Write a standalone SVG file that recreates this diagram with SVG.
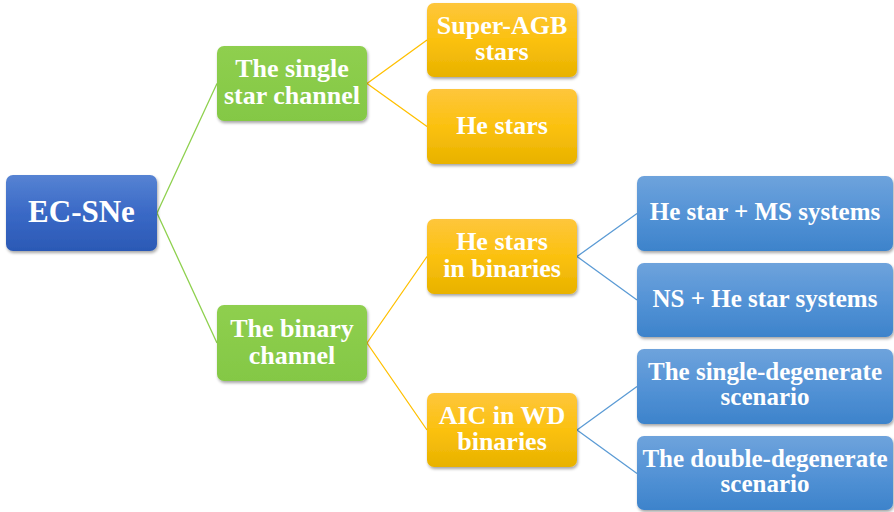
<svg xmlns="http://www.w3.org/2000/svg" width="894" height="512" viewBox="0 0 894 512">
<defs>
<linearGradient id="gRoot" x1="0" y1="0" x2="0" y2="1">
<stop offset="0" stop-color="#5683d3"/><stop offset="0.5" stop-color="#3a69c6"/><stop offset="1" stop-color="#2b59b5"/>
</linearGradient>
<linearGradient id="gBlue" x1="0" y1="0" x2="0" y2="1">
<stop offset="0" stop-color="#6ea3dc"/><stop offset="0.5" stop-color="#5493d6"/><stop offset="1" stop-color="#3d83cb"/>
</linearGradient>
<linearGradient id="gGreen" x1="0" y1="0" x2="0" y2="1">
<stop offset="0" stop-color="#8fcf4f"/><stop offset="1" stop-color="#84c845"/>
</linearGradient>
<linearGradient id="gYellow" x1="0" y1="0" x2="0" y2="1">
<stop offset="0" stop-color="#fec63c"/><stop offset="0.5" stop-color="#fbc10f"/><stop offset="1" stop-color="#e8b200"/>
</linearGradient>
<filter id="sh" x="-10%" y="-10%" width="120%" height="130%">
<feDropShadow dx="1" dy="2" stdDeviation="1.5" flood-color="#000" flood-opacity="0.35"/>
</filter>
</defs>
<style>
.n{filter:url(#sh)}
.t{font-family:"Liberation Serif","Times New Roman",serif;font-weight:bold;fill:#fff;text-anchor:middle}
.t26{font-size:26px}
.t25{font-size:25px}
.c{fill:none;stroke-width:1.3}
</style>
<g id="connectors">
<path class="c" stroke="#8fd14f" d="M157 213 L217 83.5 M157 213 L217 343"/>
<path class="c" stroke="#ffc000" d="M367 83.5 L427 40 M367 83.5 L427 126.5 M367 343 L427 256.5 M367 343 L427 430"/>
<path class="c" stroke="#5b9bd5" d="M577 256.5 L637 213.5 M577 256.5 L637 300 M577 430 L637 386.5 M577 430 L637 473.5"/>
</g>
<g id="root">
<rect class="n" x="6" y="175" width="151" height="76" rx="7" fill="url(#gRoot)"/>
<text class="t" x="81.5" y="222" font-size="31">EC-SNe</text>
</g>
<g id="single">
<rect class="n" x="217" y="46" width="150" height="75" rx="7" fill="url(#gGreen)"/>
<text class="t t26" x="292" y="77">The single</text>
<text class="t t26" x="292" y="104">star channel</text>
</g>
<g id="binary">
<rect class="n" x="217" y="305" width="150" height="76" rx="7" fill="url(#gGreen)"/>
<text class="t t26" x="292" y="336.5">The binary</text>
<text class="t t26" x="292" y="363.5">channel</text>
</g>
<g id="superagb">
<rect class="n" x="427" y="3" width="150" height="74" rx="7" fill="url(#gYellow)"/>
<text class="t t26" x="502" y="33.5">Super-AGB</text>
<text class="t t26" x="502" y="60">stars</text>
</g>
<g id="hestars">
<rect class="n" x="427" y="89" width="150" height="75" rx="7" fill="url(#gYellow)"/>
<text class="t t26" x="502" y="133.5">He stars</text>
</g>
<g id="hebin">
<rect class="n" x="427" y="219" width="150" height="75" rx="7" fill="url(#gYellow)"/>
<text class="t t26" x="502" y="250">He stars</text>
<text class="t t26" x="502" y="277">in binaries</text>
</g>
<g id="aic">
<rect class="n" x="427" y="393" width="150" height="74" rx="7" fill="url(#gYellow)"/>
<text class="t t26" x="502" y="423.5">AIC in WD</text>
<text class="t t26" x="502" y="450">binaries</text>
</g>
<g id="hems">
<rect class="n" x="637" y="176" width="256" height="75" rx="7" fill="url(#gBlue)"/>
<text class="t t25" x="765" y="220">He star + MS systems</text>
</g>
<g id="nshe">
<rect class="n" x="637" y="263" width="256" height="74" rx="7" fill="url(#gBlue)"/>
<text class="t t25" x="765" y="306.5">NS + He star systems</text>
</g>
<g id="sd">
<rect class="n" x="637" y="349" width="256" height="75" rx="7" fill="url(#gBlue)"/>
<text class="t t25" x="765" y="380">The single-degenerate</text>
<text class="t t25" x="765" y="405">scenario</text>
</g>
<g id="dd">
<rect class="n" x="637" y="436" width="256" height="74" rx="7" fill="url(#gBlue)"/>
<text class="t t25" x="765" y="467">The double-degenerate</text>
<text class="t t25" x="765" y="492">scenario</text>
</g>
</svg>
